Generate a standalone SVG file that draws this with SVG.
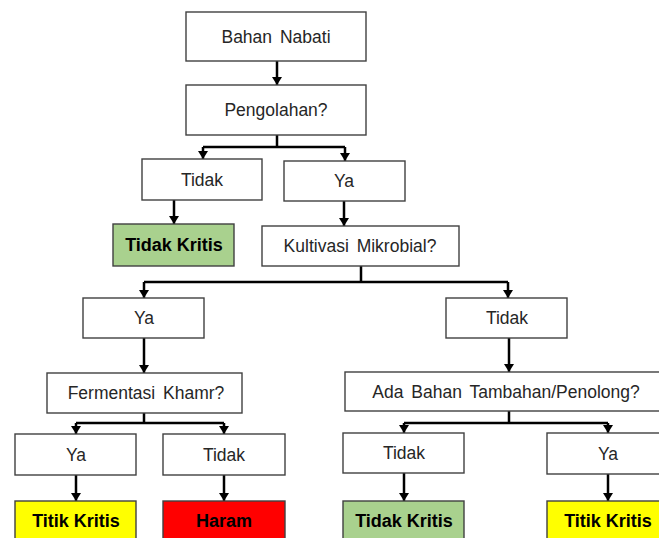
<svg xmlns="http://www.w3.org/2000/svg" width="659" height="538" viewBox="0 0 659 538">
<style>
.box{fill:#fff;stroke:#404040;stroke-width:1.4}
.green{fill:#a9d18e;stroke:#404040;stroke-width:1.4}
.yellow{fill:#ffff00;stroke:#404040;stroke-width:1.4}
.red{fill:#ff0000;stroke:#404040;stroke-width:1.4}
.t{font-family:"Liberation Sans",Arial,sans-serif;font-size:17.5px;fill:#262626;text-anchor:middle;word-spacing:3px}
.b{font-family:"Liberation Sans",Arial,sans-serif;font-size:18px;font-weight:bold;fill:#000;text-anchor:middle}
.c{fill:none;stroke:#000;stroke-width:2.5}
</style>
<g id="connectors">
<path class="c" d="M277,61 V85"/>
<path class="c" d="M277,135 V147 M203,147 H345"/>
<path class="c" d="M203,147 V159"/>
<path class="c" d="M345,147 V161"/>
<path class="c" d="M174,200 V224"/>
<path class="c" d="M344,201 V226"/>
<path class="c" d="M361,266 V282 M144,282 H508"/>
<path class="c" d="M144,282 V298"/>
<path class="c" d="M508,282 V298"/>
<path class="c" d="M144,338 V373"/>
<path class="c" d="M509,338 V372"/>
<path class="c" d="M144,413 V423 M76,423 H224"/>
<path class="c" d="M76,423 V434"/>
<path class="c" d="M224,423 V434"/>
<path class="c" d="M509,411 V423 M404,423 H608"/>
<path class="c" d="M404,423 V433"/>
<path class="c" d="M608,423 V433"/>
<path class="c" d="M76,475 V501"/>
<path class="c" d="M224,475 V501"/>
<path class="c" d="M404,473 V501"/>
<path class="c" d="M608,474 V501"/>
</g>
<g id="arrowheads" fill="#000">
<path d="M272,77 H282 L277,85 Z"/>
<path d="M198,151 H208 L203,159 Z"/>
<path d="M340,153 H350 L345,161 Z"/>
<path d="M169,216 H179 L174,224 Z"/>
<path d="M339,218 H349 L344,226 Z"/>
<path d="M139,290 H149 L144,298 Z"/>
<path d="M503,290 H513 L508,298 Z"/>
<path d="M139,365 H149 L144,373 Z"/>
<path d="M504,364 H514 L509,372 Z"/>
<path d="M71,426 H81 L76,434 Z"/>
<path d="M219,426 H229 L224,434 Z"/>
<path d="M399,425 H409 L404,433 Z"/>
<path d="M603,425 H613 L608,433 Z"/>
<path d="M71,493 H81 L76,501 Z"/>
<path d="M219,493 H229 L224,501 Z"/>
<path d="M399,493 H409 L404,501 Z"/>
<path d="M603,493 H613 L608,501 Z"/>
</g>
<g id="bahan-nabati"><rect class="box" x="186" y="12" width="180" height="49"/><text class="t" x="276" y="43">Bahan Nabati</text></g>
<g id="pengolahan"><rect class="box" x="186" y="85" width="180" height="50"/><text class="t" x="276" y="116">Pengolahan?</text></g>
<g id="tidak-1"><rect class="box" x="142" y="159" width="120" height="41"/><text class="t" x="202" y="186">Tidak</text></g>
<g id="ya-1"><rect class="box" x="284" y="161" width="121" height="40"/><text class="t" x="344" y="187">Ya</text></g>
<g id="tidak-kritis-1"><rect class="green" x="113" y="224" width="121" height="42"/><text class="b" x="174" y="251">Tidak Kritis</text></g>
<g id="kultivasi"><rect class="box" x="262" y="226" width="197" height="40"/><text class="t" x="360" y="252">Kultivasi Mikrobial?</text></g>
<g id="ya-2"><rect class="box" x="83" y="298" width="121" height="40"/><text class="t" x="144" y="324">Ya</text></g>
<g id="tidak-2"><rect class="box" x="446" y="298" width="121" height="40"/><text class="t" x="507" y="324">Tidak</text></g>
<g id="fermentasi"><rect class="box" x="47" y="373" width="195" height="40"/><text class="t" x="146" y="399">Fermentasi Khamr?</text></g>
<g id="ada-bahan"><rect class="box" x="345" y="372" width="322" height="39"/><text class="t" x="506" y="398">Ada Bahan Tambahan/Penolong?</text></g>
<g id="ya-3"><rect class="box" x="15" y="434" width="121" height="41"/><text class="t" x="76" y="461">Ya</text></g>
<g id="tidak-3"><rect class="box" x="163" y="434" width="122" height="41"/><text class="t" x="224" y="461">Tidak</text></g>
<g id="tidak-4"><rect class="box" x="343" y="433" width="121" height="40"/><text class="t" x="404" y="459">Tidak</text></g>
<g id="ya-4"><rect class="box" x="547" y="433" width="122" height="41"/><text class="t" x="608" y="460">Ya</text></g>
<g id="titik-kritis-1"><rect class="yellow" x="15" y="501" width="121" height="45"/><text class="b" x="76" y="527">Titik Kritis</text></g>
<g id="haram"><rect class="red" x="163" y="501" width="122" height="45"/><text class="b" x="224" y="527">Haram</text></g>
<g id="tidak-kritis-2"><rect class="green" x="343" y="501" width="121" height="45"/><text class="b" x="404" y="527">Tidak Kritis</text></g>
<g id="titik-kritis-2"><rect class="yellow" x="547" y="501" width="122" height="45"/><text class="b" x="608" y="527">Titik Kritis</text></g>
</svg>
